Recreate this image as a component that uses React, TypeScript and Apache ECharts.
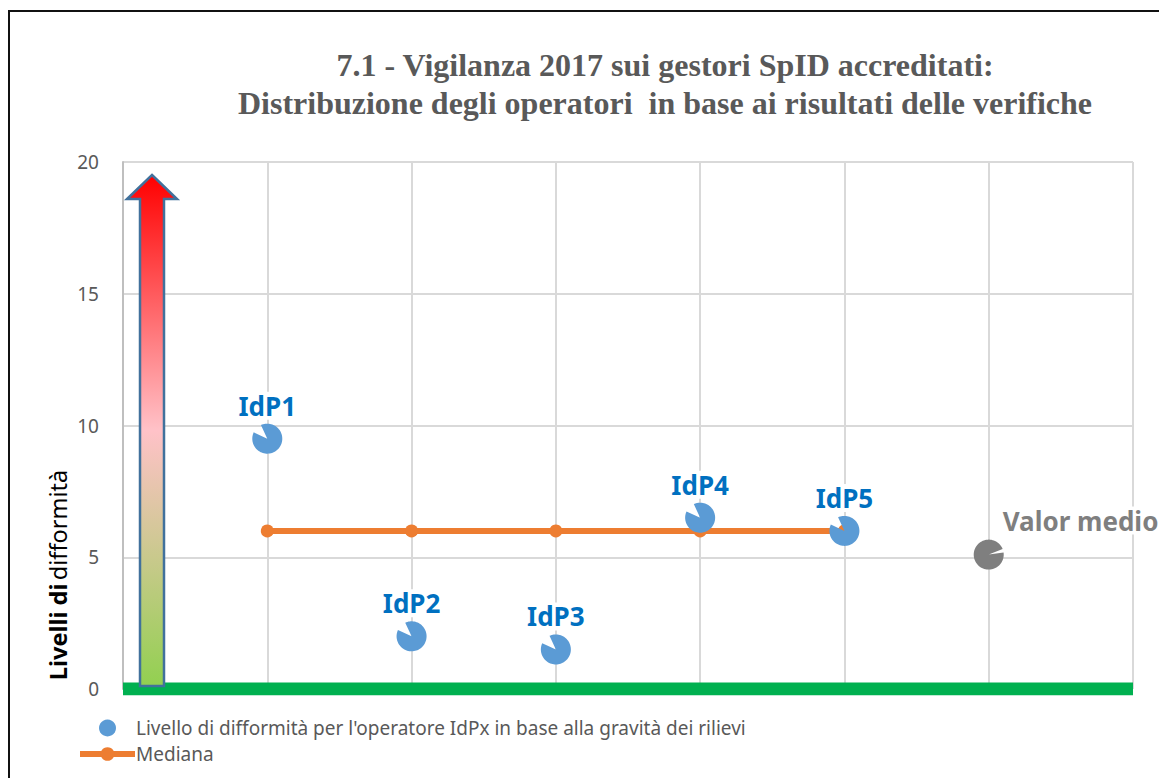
import React, { useEffect, useRef } from "react";
import * as echarts from "echarts";

const titleLines = [
  "7.1 - Vigilanza 2017 sui gestori SpID accreditati:",
  "Distribuzione degli operatori  in base ai risultati delle verifiche",
];
const operators = ["IdP1", "IdP2", "IdP3", "IdP4", "IdP5", "Valor medio"];
const operatorX = [1, 2, 3, 4, 5, 6];
const levels = [9.5, 2.0, 1.5, 6.5, 6.0, 5.1];
const medianX = [1, 2, 3, 4, 5];
const medianValue = 6;
const seriesNames = [
  "Livello di difformità per l'operatore IdPx in base alla gravità dei rilievi",
  "Mediana",
];
const yTicks = { min: 0, max: 20, interval: 5 };
const xRange = { min: 0, max: 7 };

// pac-man style marker: circle with a wedge cut out between a1 and a2 (degrees, CCW, y up)
function pacPath(a1: number, a2: number): string {
  const r = 50;
  const pts: string[] = [];
  const steps = 72;
  const span = 360 - (a2 - a1);
  for (let i = 0; i <= steps; i++) {
    const a = ((a2 + (span * i) / steps) * Math.PI) / 180;
    pts.push(`${(r * Math.cos(a)).toFixed(2)},${(-r * Math.sin(a)).toFixed(2)}`);
  }
  return `path://M0,0 L${pts.join(" L")} Z`;
}

export default function App() {
  const ref = useRef<HTMLDivElement>(null);
  useEffect(() => {
    document.body.style.margin = "0";
    const chart = echarts.init(ref.current!, null, { renderer: "svg" });
    const blue = "#5B9BD5";
    const gray = "#7F7F7F";
    const scatterData = operators.map((name, i) => {
      const isMean = name === "Valor medio";
      return {
        name,
        value: [operatorX[i], levels[i]],
        symbol: isMean ? pacPath(8, 22) : pacPath(115, 155),
        itemStyle: { color: isMean ? gray : blue, opacity: 1 },
        label: isMean
          ? {
              show: true,
              position: [26, -33],
              color: gray,
              formatter: name,
            }
          : { show: true, formatter: name },
      };
    });
    const option: any = {
      animation: false,
      backgroundColor: "#fff",
      title: {
        text: titleLines.join("\n"),
        left: 660,
        top: 41,
        textAlign: "center",
        textStyle: {
          fontFamily: "Liberation Serif",
          fontWeight: "bold",
          fontSize: 32,
          lineHeight: 38,
          color: "#595959",
        },
      },
      grid: { left: 123, right: 26, top: 162, bottom: 89, containLabel: false },
      xAxis: {
        type: "value",
        min: xRange.min,
        max: xRange.max,
        interval: 1,
        axisLine: { show: false },
        axisTick: { show: false },
        axisLabel: { show: false },
        splitLine: { show: true, lineStyle: { color: "#D9D9D9", width: 2 } },
      },
      yAxis: {
        type: "value",
        min: yTicks.min,
        max: yTicks.max,
        interval: yTicks.interval,
        axisLine: { show: true, lineStyle: { color: "#BFBFBF", width: 2 } },
        axisTick: { show: false },
        axisLabel: {
          color: "#595959",
          fontSize: 19,
          fontFamily: "Noto Sans",
          margin: 24,
        },
        splitLine: { show: true, lineStyle: { color: "#D9D9D9", width: 2 } },
      },
      legend: {
        orient: "vertical",
        left: 77,
        top: 717,
        itemWidth: 55,
        itemHeight: 17,
        itemGap: 4,
        itemStyle: { opacity: 1 },
        lineStyle: { width: 6 },
        padding: 0,
        textStyle: {
          color: "#595959",
          fontSize: 19,
          lineHeight: 22,
          fontFamily: "Noto Sans",
          padding: [0, 0, 0, -4],
        },
        data: [
          { name: seriesNames[0], icon: "circle" },
          { name: seriesNames[1] },
        ],
      },
      series: [
        {
          name: "baseline",
          type: "line",
          data: [
            [xRange.min, 0],
            [xRange.max, 0],
          ],
          symbol: "none",
          lineStyle: { color: "#00B050", width: 13, cap: "butt" },
          z: 3,
          silent: true,
        },
        {
          name: seriesNames[1],
          type: "line",
          data: medianX.map((x) => [x, medianValue]),
          symbol: "circle",
          symbolSize: 13,
          itemStyle: { color: "#ED7D31" },
          lineStyle: { color: "#ED7D31", width: 6 },
          z: 4,
        },
        {
          name: seriesNames[0],
          type: "scatter",
          data: scatterData,
          symbolSize: 30,
          itemStyle: { color: blue, opacity: 1 },
          z: 5,
          label: {
            show: true,
            position: "top",
            distance: 4,
            color: "#0070C0",
            fontWeight: "bold",
            fontSize: 26,
            fontFamily: "Noto Sans",
            backgroundColor: "#fff",
            padding: [1, 3],
          },
        },
      ],
      graphic: [
        {
          type: "polygon",
          z: 100,
          shape: {
            points: [
              [152, 175],
              [177, 199],
              [164, 199],
              [164, 686],
              [140, 686],
              [140, 199],
              [127, 199],
            ],
          },
          style: {
            fill: new echarts.graphic.LinearGradient(0, 0, 0, 1, [
              { offset: 0, color: "#FF0000" },
              { offset: 0.5, color: "#FFC2C8" },
              { offset: 1, color: "#92D050" },
            ]),
            stroke: "#41719C",
            lineWidth: 2.5,
          },
        },
        {
          type: "text",
          z: 100,
          x: 58,
          y: 575,
          rotation: Math.PI / 2,
          style: {
            text: "{b|Livelli di} {n|difformità}",
            align: "center",
            verticalAlign: "middle",
            rich: {
              b: { fontFamily: "Noto Sans", fontSize: 23.5, fontWeight: "bold", fill: "#000" },
              n: { fontFamily: "Noto Sans", fontSize: 23.5, fill: "#000" },
            },
          },
        },
        {
          type: "line",
          z: 100,
          shape: { x1: 8, y1: 11, x2: 1159, y2: 11 },
          style: { stroke: "#111", lineWidth: 2 },
        },
        {
          type: "line",
          z: 100,
          shape: { x1: 9, y1: 10, x2: 9, y2: 778 },
          style: { stroke: "#111", lineWidth: 2 },
        },
      ],
    };
    chart.setOption(option);
    return () => chart.dispose();
  }, []);
  return <div ref={ref} style={{ width: 1159, height: 778 }} />;
}
